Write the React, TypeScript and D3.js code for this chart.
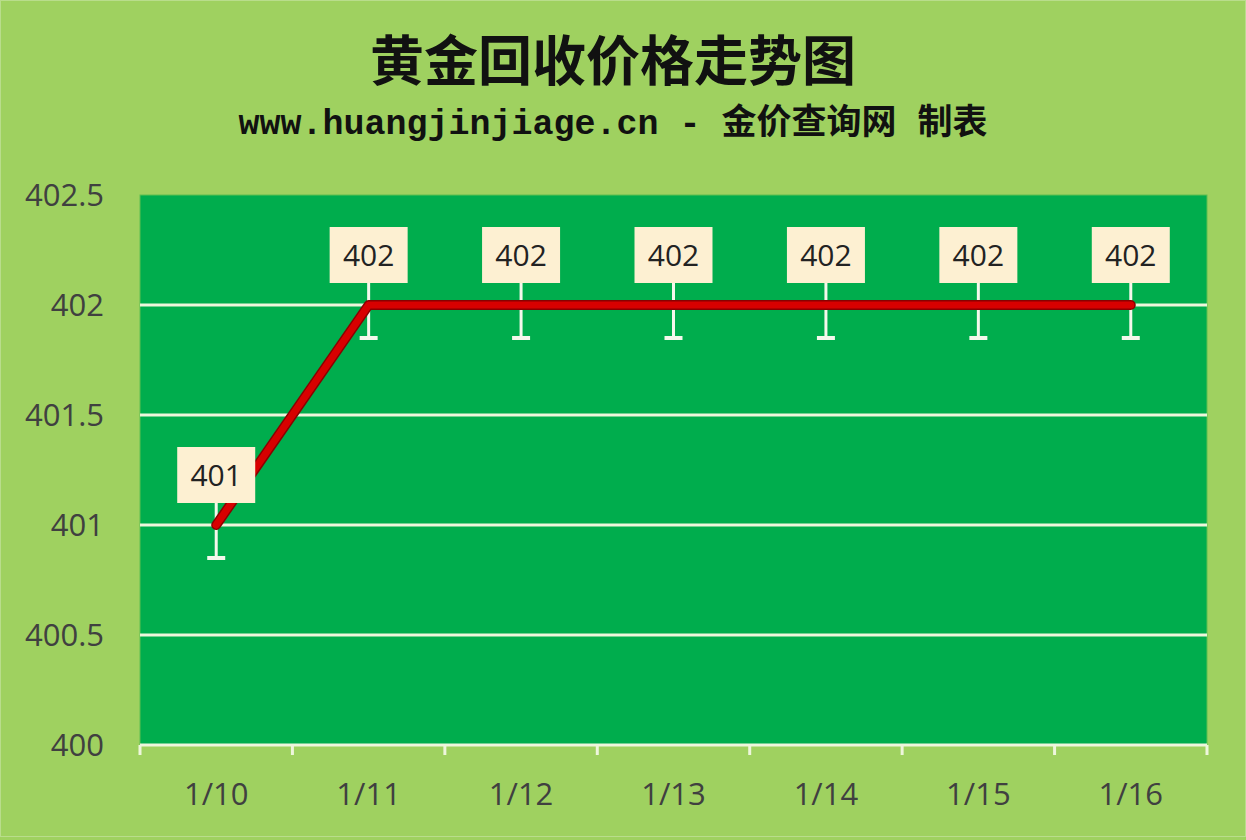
import * as d3 from "d3";

const dates = ["1/10", "1/11", "1/12", "1/13", "1/14", "1/15", "1/16"];
const prices = [401, 402, 402, 402, 402, 402, 402];
const yTicks = [400, 400.5, 401, 401.5, 402, 402.5];
const title = "黄金回收价格走势图";
const subtitle = "www.huangjinjiage.cn - 金价查询网 制表";

const W = 1246;
const H = 840;
const plot = { left: 140, right: 1207, top: 195, bottom: 745 };

export default function App() {
    const x = d3.scaleBand(dates, [plot.left, plot.right]);
    const y = d3.scaleLinear([400, 402.5], [plot.bottom, plot.top]);
    const cx = (d: string) => (x(d) as number) + x.bandwidth() / 2;
    const line = d3.line<number>((d, i) => cx(dates[i]), (d) => y(d));
    const errLen = y(0) - y(0.15);

    return (
        <div style={{ position: "fixed", left: 0, top: 0 }}>
            <svg width={W} height={H} style={{ display: "block" }}>
                <rect x={0} y={0} width={W} height={H} fill="#9FD160" />
                <rect x={0.5} y={0.5} width={W - 1} height={H - 4} fill="none" stroke="#b9dd8c" strokeWidth={1} />
                <text x={613} y={81} textAnchor="middle" fontFamily="'Noto Sans CJK SC'" fontWeight="bold" fontSize={54} fill="#111">{title}</text>
                <text x={613} y={134} textAnchor="middle" fontFamily="'Liberation Mono', 'Noto Sans CJK SC'" fontWeight="bold" fontSize={35} fill="#111">{subtitle}</text>

                <rect x={plot.left} y={plot.top} width={plot.right - plot.left} height={plot.bottom - plot.top} fill="#00AD4D" stroke="#5fbf50" strokeWidth={1} />
                {yTicks.slice(1, -1).map((t) => (
                    <line key={t} x1={plot.left} x2={plot.right} y1={y(t)} y2={y(t)} stroke="#EEF6DC" strokeWidth={3} />
                ))}
                <line x1={plot.left} x2={plot.right} y1={plot.bottom} y2={plot.bottom} stroke="#EEF6DC" strokeWidth={3} />
                {[...dates.map((d) => x(d) as number), plot.right].map((v, i) => (
                    <line key={i} x1={v} x2={v} y1={plot.bottom} y2={plot.bottom + 10} stroke="#EEF6DC" strokeWidth={3} />
                ))}
                {yTicks.map((t) => (
                    <text key={t} x={104} y={y(t) + 11} textAnchor="end" fontFamily="'Open Sans', Lato, sans-serif" fontSize={31} fill="#404040">{t}</text>
                ))}
                {dates.map((d) => (
                    <text key={d} x={cx(d)} y={805} textAnchor="middle" fontFamily="'Open Sans', Lato, sans-serif" fontSize={31} fill="#404040">{d}</text>
                ))}

                {prices.map((p, i) => (
                    <g key={i} stroke="#F4F8EC" strokeWidth={3}>
                        <line x1={cx(dates[i])} x2={cx(dates[i])} y1={y(p) - 22} y2={y(p) + errLen} />
                        <line x1={cx(dates[i]) - 9} x2={cx(dates[i]) + 9} y1={y(p) + errLen} y2={y(p) + errLen} strokeWidth={4} />
                    </g>
                ))}
                <path d={line(prices) as string} fill="none" stroke="#8a0000" strokeWidth={10} strokeLinecap="round" strokeLinejoin="round" />
                <path d={line(prices) as string} fill="none" stroke="#D80000" strokeWidth={7} strokeLinecap="round" strokeLinejoin="round" />

                {prices.map((p, i) => (
                    <g key={i}>
                        <rect x={cx(dates[i]) - 39} y={y(p) - 78} width={78} height={56} fill="#FDF0D2" />
                        <text x={cx(dates[i])} y={y(p) - 39} textAnchor="middle" fontFamily="'Open Sans', Lato, sans-serif" fontSize={30} fill="#222">{p}</text>
                    </g>
                ))}
            </svg>
        </div>
    );
}
